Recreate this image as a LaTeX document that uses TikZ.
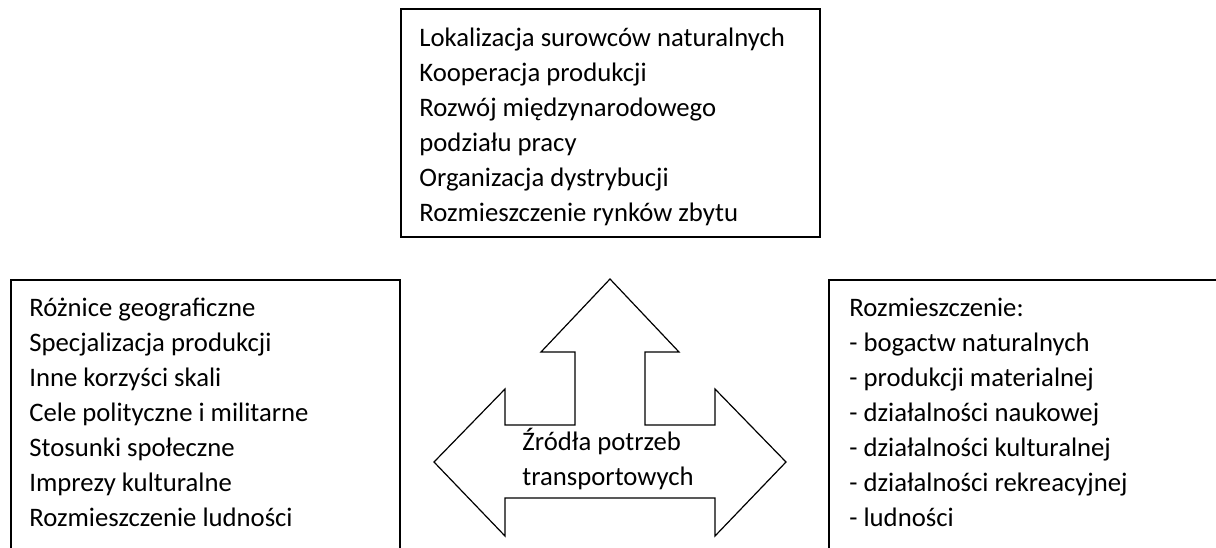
\documentclass[tikz,border=0pt]{standalone}
\usepackage{fontspec}
\setmainfont{Carlito}
\usetikzlibrary{positioning}

\tikzset{
  panel/.style={draw=black, line width=0.6pt, line join=miter},
  entry/.style={anchor=base west, inner sep=0pt, font=\fontsize{13.35}{17.55}\selectfont},
}

\begin{document}
\begin{tikzpicture}[x=0.5pt,y=-0.5pt]
\clip (0,0) rectangle (1216,547);
% top box
\draw[panel] (401,9) rectangle (820,237);
\foreach \t [count=\i from 0] in {Lokalizacja surowców naturalnych, Kooperacja produkcji,
    Rozwój międzynarodowego, podziału pracy, Organizacja dystrybucji,
    Rozmieszczenie rynków zbytu}
  \node[entry] (top\i) at (419,{46+35.1*\i}) {\t};
% left box
\draw[panel] (11,280) rectangle (400,600);
\foreach \t [count=\i from 0] in {Różnice geograficzne, Specjalizacja produkcji,
    Inne korzyści skali, Cele polityczne i militarne, Stosunki społeczne,
    Imprezy kulturalne, Rozmieszczenie ludności}
  \node[entry] (left\i) at (29,{316+35.1*\i}) {\t};
% right box
\draw[panel] (829,280) rectangle (1300,600);
\foreach \t [count=\i from 0] in {Rozmieszczenie:, - bogactw naturalnych,
    - produkcji materialnej, - działalności naukowej, - działalności kulturalnej,
    - działalności rekreacyjnej, - ludności}
  \node[entry] (right\i) at (849,{316+35.1*\i}) {\t};
% three-way arrow
\draw[panel] (610,279) -- (679,352) -- (645,352) -- (645,425) -- (715,425)
  -- (715,389) -- (786,462) -- (715,536) -- (715,498) -- (505,498)
  -- (505,536) -- (434,462) -- (505,389) -- (505,425) -- (575,425)
  -- (575,352) -- (541,352) -- cycle;
\node[entry] (mid0) at (522,450) {Źródła potrzeb};
\node[entry] (mid1) at (522,485) {transportowych};
\end{tikzpicture}
\end{document}
